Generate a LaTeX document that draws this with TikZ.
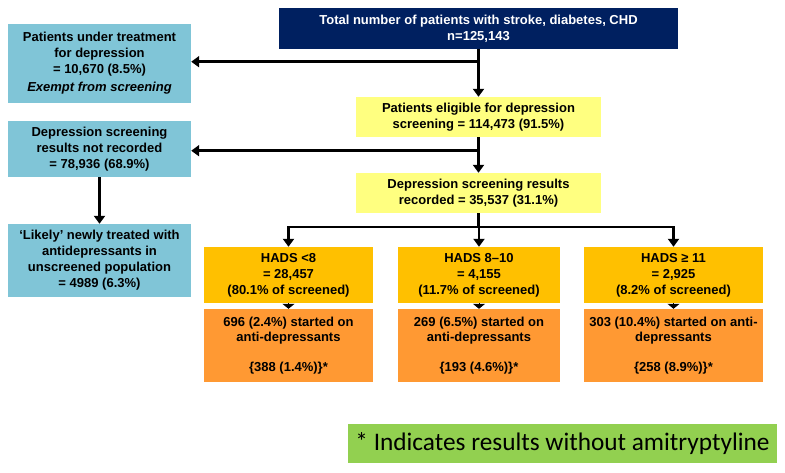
\documentclass[tikz,border=0pt]{standalone}
\usepackage{fontspec}
\setmainfont{Liberation Sans}
\newfontfamily\calib{Carlito}
\usetikzlibrary{arrows.meta}
\definecolor{navy}{RGB}{0,32,96}
\definecolor{lblue}{RGB}{128,197,215}
\definecolor{lyellow}{RGB}{255,255,128}
\definecolor{gold}{RGB}{255,192,0}
\definecolor{orng}{RGB}{255,153,51}
\definecolor{lgreen}{RGB}{146,208,80}
\begin{document}
\begin{tikzpicture}[x=1pt,y=-1pt,
  box/.style={rectangle, inner sep=0pt, align=center, font=\fontsize{13}{16}\selectfont\bfseries},
  navybox/.style={box, fill=navy, text=white, minimum width=399pt, minimum height=41pt},
  bluebox/.style={box, fill=lblue, minimum width=183pt},
  yelbox/.style={box, fill=lyellow, minimum width=245pt, minimum height=40pt},
  hadsbox/.style={box, fill=gold, minimum height=56pt},
  orbox/.style={box, fill=orng, minimum height=73pt, font=\fontsize{13}{15}\selectfont\bfseries},
  arr/.style={line width=2.5pt, -{Triangle[width=11pt,length=8pt]}},
  plain/.style={line width=2.5pt},
  smallarr/.style={line width=1pt, -{Triangle[width=12pt,length=5pt]}}
]
\useasboundingbox (0,0) rectangle (785,472);
\fill[white] (0,0) rectangle (785,472);

\node[navybox] (top) at (478.5,28.5) {Total number of patients with stroke, diabetes, CHD\\n=125,143};
\node[bluebox, minimum height=79pt] (L1) at (99.5,63.5) {Patients under treatment\\for depression\\= 10,670 (8.5\%)\\[2pt]\textit{Exempt from screening}};
\node[bluebox, minimum height=56pt] (L2) at (99.5,149) {Depression screening\\results not recorded\\= 78,936 (68.9\%)};
\node[bluebox, minimum height=73pt] (L3) at (99.5,260.5) {‘Likely’ newly treated with\\antidepressants in\\unscreened population\\= 4989 (6.3\%)};
\node[yelbox] (Y1) at (478.5,117) {Patients eligible for depression\\screening = 114,473 (91.5\%)};
\node[yelbox] (Y2) at (478.5,193) {Depression screening results\\recorded = 35,537 (31.1\%)};

\node[hadsbox, minimum width=169pt] (H1) at (288.5,275) {HADS <8\\= 28,457\\(80.1\% of screened)};
\node[hadsbox, minimum width=162pt] (H2) at (479,275) {HADS 8–10\\= 4,155\\(11.7\% of screened)};
\node[hadsbox, minimum width=179pt] (H3) at (673.5,275) {HADS ≥ 11\\= 2,925\\(8.2\% of screened)};

\node[orbox, minimum width=169pt] (O1) at (288.5,345.5) {696 (2.4\%) started on\\anti-depressants\\[15pt]\{388 (1.4\%)\}*};
\node[orbox, minimum width=162pt] (O2) at (479,345.5) {269 (6.5\%) started on\\anti-depressants\\[15pt]\{193 (4.6\%)\}*};
\node[orbox, minimum width=179pt] (O3) at (673.5,345.5) {303 (10.4\%) started on anti-\\depressants\\[15pt]\{258 (8.9\%)\}*};

\node[rectangle, fill=lgreen, minimum width=429pt, minimum height=39pt, inner sep=0pt, font=\calib\fontsize{25.3}{28}\selectfont] (G) at (562.5,443.5) {* Indicates results without amitryptyline};

% connectors
\coordinate (j1) at (478.5,61.7);
\coordinate (j2) at (478.5,150.7);
\coordinate (b) at (478.5,227);
\draw[arr] (top.south) -- (Y1.north);
\draw[arr] (j1) -- (L1.east |- j1);
\draw[arr] (Y1.south) -- (Y2.north);
\draw[arr] (j2) -- (L2.east |- j2);
\draw[arr] (L2.south) -- (L3.north);
\draw[plain] (Y2.south) -- (b);
\draw[arr] (b) -| (H1.north);
\draw[arr] (b) -- (b -| H2.north) -- (H2.north);
\draw[arr] (b) -| (H3.north);
\draw[smallarr] (H1.south) -- (O1.north);
\draw[smallarr] (H2.south) -- (O2.north);
\draw[smallarr] (H3.south) -- (O3.north);
\end{tikzpicture}
\end{document}
